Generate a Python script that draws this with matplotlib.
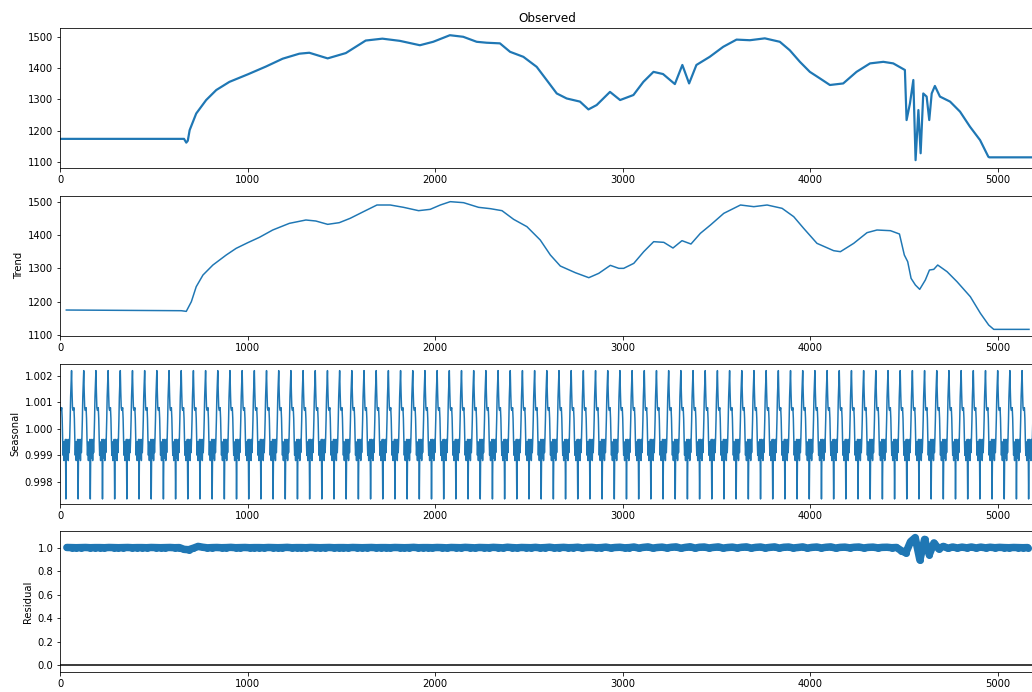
import numpy as np
import matplotlib
matplotlib.use("Agg")
import matplotlib.pyplot as plt

# observed series (index, value)
obs_x = [0, 660, 672, 680, 690, 725, 778, 832, 902, 1000, 1097, 1186, 1275, 1328,
         1426, 1523, 1629, 1718, 1811, 1918, 1989, 2078, 2149, 2221, 2274, 2345,
         2399, 2470, 2541, 2594, 2648, 2701, 2772, 2817, 2861, 2932, 2986, 3057,
         3110, 3164, 3215, 3278, 3318, 3354, 3393, 3464, 3536, 3607, 3678, 3758,
         3838, 3891, 3945, 3998, 4052, 4105, 4176, 4247, 4319, 4390, 4443, 4505,
         4514, 4532, 4550, 4562, 4577, 4589, 4603, 4621, 4635, 4648, 4665, 4692,
         4746, 4799, 4852, 4906, 4950, 4955, 5199]
obs_y = [1174, 1174, 1162, 1168, 1202, 1255, 1298, 1330, 1356, 1380, 1405, 1430, 1446, 1449,
         1431, 1448, 1488, 1494, 1487, 1473, 1484, 1505, 1500, 1484, 1481, 1479,
         1452, 1436, 1404, 1362, 1319, 1303, 1293, 1268, 1282, 1324, 1298, 1314,
         1356, 1388, 1381, 1349, 1410, 1351, 1410, 1436, 1468, 1491, 1489, 1495,
         1484, 1457, 1420, 1388, 1367, 1346, 1351, 1388, 1415, 1420, 1415, 1394,
         1234, 1287, 1362, 1106, 1266, 1128, 1319, 1309, 1234, 1319, 1343, 1309,
         1293, 1261, 1213, 1170, 1117, 1115, 1115]

# trend
trend_x = [32, 645, 672, 699, 725, 761, 814, 885, 938, 1000, 1062, 1133, 1222, 1310,
           1363, 1426, 1488, 1546, 1617, 1689, 1760, 1831, 1911, 1973, 2027, 2080,
           2151, 2231, 2294, 2356, 2418, 2489, 2560, 2614, 2667, 2747, 2819, 2872,
           2934, 2979, 3005, 3059, 3112, 3165, 3219, 3268, 3316, 3364, 3414, 3468,
           3539, 3628, 3699, 3770, 3850, 3912, 3965, 4036, 4125, 4161, 4232, 4303,
           4356, 4428, 4476, 4502, 4520, 4538, 4561, 4584, 4614, 4636, 4659, 4680,
           4730, 4783, 4854, 4908, 4952, 4979, 5167]
trend_y = [1175, 1173, 1171, 1200, 1245, 1280, 1310, 1340, 1360, 1377, 1393, 1415, 1435, 1445,
           1442, 1432, 1437, 1450, 1470, 1490, 1490, 1483, 1473, 1477, 1490, 1500,
           1497, 1483, 1479, 1473, 1447, 1425, 1385, 1340, 1307, 1287, 1272, 1285,
           1309, 1300, 1300, 1315, 1350, 1380, 1378, 1361, 1383, 1373, 1405, 1430,
           1465, 1490, 1485, 1490, 1480, 1455, 1420, 1375, 1353, 1350, 1375, 1407,
           1415, 1413, 1403, 1340, 1320, 1270, 1250, 1237, 1265, 1295, 1297, 1310,
           1290, 1260, 1215, 1165, 1130, 1117, 1117]

# one seasonal cycle (65 samples, one value per 2.5 samples), repeats over the series
season_cycle = [1.0008, 1.0007, 1.0007, 1.0008, 1.0004, 0.9996, 0.9990, 0.9995, 0.9988,
                0.9995, 0.9991, 0.9996, 0.99735, 0.9993, 0.9996, 0.9989, 0.9995, 0.9988,
                0.9996, 0.9991, 0.9996, 1.0003, 1.0012, 1.0017, 1.0022, 1.0014]
n_cycles = 80

# residual, one value every 25 samples starting at 35
resid_y = [
    1.001, 1.000, 0.999, 1.000, 1.001, 0.999, 1.000, 1.000, 0.999, 1.001,
    1.000, 0.999, 1.000, 1.001, 0.999, 1.000, 1.000, 0.999, 1.001, 1.000,
    0.999, 1.000, 1.001, 0.999, 1.000, 0.985, 0.982, 0.995, 1.010, 1.003,
    0.998, 1.000, 1.001, 0.999, 1.000, 1.002, 0.999, 1.000, 1.001, 0.999,
    1.000, 1.000, 0.999, 1.001, 1.000, 0.999, 1.000, 1.002, 0.999, 1.000,
    1.000, 0.999, 1.001, 1.000, 0.999, 1.000, 1.001, 0.999, 1.000, 1.000,
    0.999, 1.001, 1.000, 0.999, 1.000, 1.001, 0.999, 1.000, 1.000, 0.999,
    1.001, 1.000, 0.999, 1.000, 1.002, 0.999, 1.000, 1.000, 0.999, 1.001,
    1.000, 0.998, 1.001, 1.000, 0.999, 1.002, 1.000, 0.998, 1.001, 1.000,
    0.999, 1.002, 1.000, 0.998, 1.003, 1.000, 0.998, 1.001, 1.000, 0.999,
    1.002, 0.998, 1.000, 1.003, 0.998, 1.000, 1.002, 0.999, 1.000, 1.003,
    0.997, 1.001, 1.002, 0.998, 1.000, 1.004, 0.997, 1.001, 1.003, 0.998,
    1.000, 1.005, 0.996, 1.002, 1.006, 0.996, 1.001, 1.004, 0.997, 1.003,
    1.006, 0.995, 1.002, 1.007, 0.996, 1.003, 1.005, 0.997, 1.002, 1.006,
    0.996, 1.001, 1.004, 0.997, 1.003, 1.006, 0.996, 1.002, 1.005, 0.997,
    1.002, 1.006, 0.996, 1.003, 1.005, 0.997, 1.001, 1.006, 0.996, 1.002,
    1.005, 0.997, 1.003, 1.006, 0.996, 1.002, 1.004, 0.998, 1.003, 1.005,
    0.997, 1.002, 1.004, 0.998, 1.002, 1.003, 0.999, 1.001, 0.975, 0.955,
    1.050, 1.085, 0.895, 1.070, 0.940, 1.040, 0.990, 1.010, 0.995, 1.005,
    0.997, 1.004, 0.998, 1.005, 0.997, 1.004, 0.998, 1.003, 0.999, 1.002,
    1.000, 0.999, 1.001, 1.000, 0.999, 1.000]

fig = plt.figure(figsize=(1032 / 72, 692 / 72), dpi=72)

W, H = 1032.0, 692.0
left, right = 60.3, 1035.0
panels = [(27.7, 168.3), (196.0, 335.7), (364.0, 503.7), (531.0, 671.7)]
axes = []
for top, bottom in panels:
    ax = fig.add_axes([left / W, 1 - bottom / H, (right - left) / W, (bottom - top) / H])
    axes.append(ax)
ax1, ax2, ax3, ax4 = axes

ax1.plot(obs_x, obs_y, color="C0", lw=2.2)
ax1.set_title("Observed", fontsize=12)
ax1.set_ylim(1080, 1529)
ax1.set_yticks([1100, 1200, 1300, 1400, 1500])

ax2.plot(trend_x, trend_y, color="C0", lw=1.5)
ax2.set_ylabel("Trend")
ax2.set_ylim(1098, 1517)
ax2.set_yticks([1100, 1200, 1300, 1400, 1500])

season_vals = np.tile(season_cycle, n_cycles)
season_x = np.arange(len(season_vals)) * 2.5
ax3.plot(season_x, season_vals, color="C0", lw=1.5)
ax3.set_ylabel("Seasonal")
ax3.set_ylim(0.99717, 1.00245)
ax3.set_yticks([0.998, 0.999, 1.000, 1.001, 1.002])
ax3.set_yticklabels(["0.998", "0.999", "1.000", "1.001", "1.002"])

# dense overplotted dots in the original -> thick joined band of markers
resid_x = 35 + 25 * np.arange(len(resid_y))
ax4.plot(resid_x, resid_y, marker="o", ms=7, mew=0, lw=7.5, color="C0",
         solid_joinstyle="round", solid_capstyle="round")
ax4.plot([0, 5199], [0, 0], color="#000000", zorder=-3)
ax4.set_ylabel("Residual")
ax4.set_ylim(-0.054, 1.141)
ax4.set_yticks([0.0, 0.2, 0.4, 0.6, 0.8, 1.0])

for ax in axes:
    ax.set_xlim(0, 5199)
    ax.set_xticks([0, 1000, 2000, 3000, 4000, 5000])

fig.savefig("out.png", dpi=72)
